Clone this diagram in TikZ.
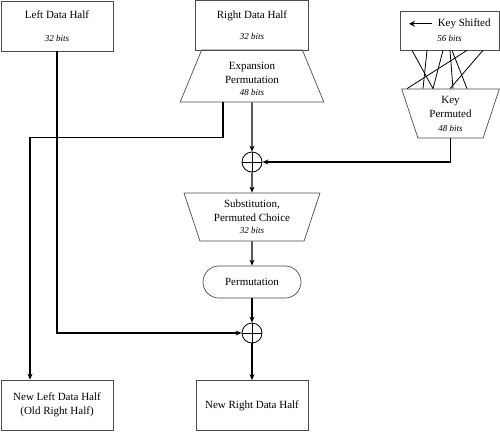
\documentclass[tikz,border=0pt]{standalone}
\usepackage{fontspec}
\setmainfont{Liberation Serif}
\usetikzlibrary{arrows.meta,calc,shapes.geometric}
\newcommand{\bitnote}[1]{{\fontsize{9}{11}\selectfont\itshape #1}}
\newcommand{\shiftarrow}{\tikz[baseline=-0.6ex, x=1cm, y=1cm]
  \draw[line width=1.1pt, -{Stealth[length=6pt, width=6pt]}] (0.8,0) -- (0,0);}

\begin{document}
\begin{tikzpicture}[x=1pt, y=-1pt, font=\fontsize{11}{14}\selectfont,
    conn/.style={draw=black, line width=1.1pt, -{Stealth[length=6pt, width=5pt]}},
    frame/.style={draw=black!70, line width=0.7pt, align=center, inner sep=0pt},
    box/.style={frame, rectangle, minimum width=112, minimum height=50},
    trap/.style={frame, trapezium, trapezium stretches=true},
    xorop/.style={circle, draw=black, line width=0.8pt, minimum size=20, inner sep=0pt},
  ]
  \useasboundingbox (0,0) rectangle (500,431);

  % input halves and key
  \node[box] (ldh) at (57,26) {Left Data Half\\[9pt]\bitnote{32 bits}};
  \node[box, minimum width=113] (rdh) at (252,25) {Right Data Half\\[7pt]\bitnote{32 bits}};
  \node[box, minimum width=99, minimum height=39] (ks) at (449.5,30.5)
    {\shiftarrow\ \ Key Shifted\\[1pt]\bitnote{56 bits}};

  % trapezium stages
  \node[trap, minimum width=144, minimum height=52,
    trapezium left angle=74, trapezium right angle=74] (ep) at (252,76)
    {\rule{0pt}{14pt}Expansion\\Permutation\\[-2pt]\bitnote{48 bits}};
  \node[trap, minimum width=98, minimum height=49, shape border rotate=180,
    trapezium left angle=73.5, trapezium right angle=73.5] (kp) at (450.5,113.5)
    {Key\\Permuted\\\bitnote{48 bits}};
  \node[trap, minimum width=137, minimum height=48, shape border rotate=180,
    trapezium left angle=71, trapezium right angle=71] (sp) at (252,217)
    {Substitution,\\Permuted Choice\\[-2pt]\bitnote{32 bits}};
  \node[frame, rectangle, rounded corners=16, minimum width=98, minimum height=32] (pm) at (252,282) {Permutation};

  % xor gates
  \node[xorop] (x1) at (252,162) {};
  \node[xorop] (x2) at (252,333) {};
  \foreach \g in {x1,x2} {
    \draw[line width=0.8pt] (\g.north) -- (\g.south);
    \draw[line width=0.8pt] (\g.west) -- (\g.east);
  }

  % outputs
  \node[box] (nlh) at (57,405) {New Left Data Half\\(Old Right Half)};
  \node[box] (nrh) at (252,405.5) {New Right Data Half};

  % key bit wiring
  \foreach \a/\b in {412/433, 427/423, 443/433, 450/453, 452/467, 467/407, 483/450}
    \draw[line width=0.8pt] (\a,0 |- ks.south) -- (\b,0 |- kp.north);

  % data flow
  \draw[conn] (ep.south) -- (x1.north);
  \draw[conn] (kp.south) |- (x1.east);
  \draw[conn] (x1.south) -- (sp.north);
  \draw[conn] (sp.south) -- (pm.north);
  \draw[conn] (pm.south) -- (x2.north);
  \draw[conn] (x2.south) -- (nrh.north);
  \draw[conn] (ldh.south) |- (x2.west);
  \draw[conn] ($(ep.south)+(-29,0)$) -- ++(0,35) -| ($(nlh.north)+(-27,0)$);
\end{tikzpicture}
\end{document}
